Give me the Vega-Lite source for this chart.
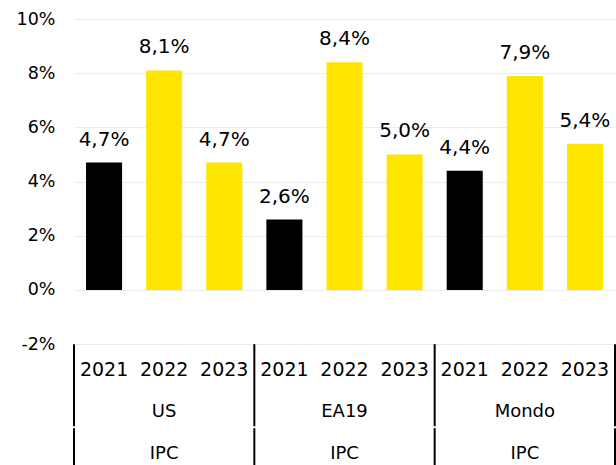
{
  "$schema": "https://vega.github.io/schema/vega-lite/v6.json",
  "width": 541,
  "height": 446,
  "autosize": "none",
  "padding": {"left": 74, "top": 19, "right": 1, "bottom": 0},
  "config": {
    "view": {"stroke": null},
    "font": "DejaVu Sans",
    "locale": {
      "number": {"decimal": ",", "thousands": ".", "grouping": [3], "currency": ["", " €"], "minus": "-"}
    }
  },
  "datasets": {
    "inflation": [
      {"country": "US", "year": "2021", "key": "US-2021", "value": 0.047},
      {"country": "US", "year": "2022", "key": "US-2022", "value": 0.081},
      {"country": "US", "year": "2023", "key": "US-2023", "value": 0.047},
      {"country": "EA19", "year": "2021", "key": "EA19-2021", "value": 0.026},
      {"country": "EA19", "year": "2022", "key": "EA19-2022", "value": 0.084},
      {"country": "EA19", "year": "2023", "key": "EA19-2023", "value": 0.050},
      {"country": "Mondo", "year": "2021", "key": "Mondo-2021", "value": 0.044},
      {"country": "Mondo", "year": "2022", "key": "Mondo-2022", "value": 0.079},
      {"country": "Mondo", "year": "2023", "key": "Mondo-2023", "value": 0.054}
    ],
    "groups": [
      {"country": "US", "measure": "IPC"},
      {"country": "EA19", "measure": "IPC"},
      {"country": "Mondo", "measure": "IPC"}
    ],
    "separators": [
      {"boundary": 0}, {"boundary": 3}, {"boundary": 6}, {"boundary": 9}
    ]
  },
  "resolve": {"scale": {"x": "independent"}},
  "layer": [
    {
      "data": {"name": "inflation"},
      "encoding": {
        "x": {
          "field": "key", "type": "nominal", "sort": null,
          "scale": {"paddingInner": 0.4, "paddingOuter": 0.2},
          "axis": null
        }
      },
      "layer": [
        {
          "mark": {"type": "bar"},
          "encoding": {
            "y": {
              "field": "value", "type": "quantitative",
              "scale": {"domain": [-0.0646, 0.10], "nice": false, "zero": false},
              "axis": {
                "values": [-0.02, 0, 0.02, 0.04, 0.06, 0.08, 0.10],
                "format": ".0%",
                "title": null,
                "domain": false,
                "ticks": false,
                "labelPadding": 19,
                "labelFontSize": 17.5,
                "labelColor": "#000000",
                "grid": true,
                "gridColor": "#ebebeb",
                "gridWidth": 1
              }
            },
            "y2": {"datum": 0},
            "color": {
              "field": "year", "type": "nominal",
              "scale": {"domain": ["2021", "2022", "2023"], "range": ["#000000", "#FFE600", "#FFE600"]},
              "legend": null
            }
          }
        },
        {
          "mark": {"type": "text", "fontSize": 20, "dy": -17, "baseline": "alphabetic", "color": "#000000"},
          "encoding": {
            "y": {"field": "value", "type": "quantitative"},
            "text": {"field": "value", "type": "quantitative", "format": ".1%"}
          }
        },
        {
          "mark": {"type": "text", "fontSize": 19, "baseline": "middle", "color": "#000000"},
          "encoding": {
            "y": {"datum": -0.0296, "type": "quantitative"},
            "text": {"field": "year", "type": "nominal"}
          }
        }
      ]
    },
    {
      "data": {"name": "groups"},
      "encoding": {
        "x": {
          "field": "country", "type": "nominal", "sort": null,
          "scale": {"paddingInner": 0, "paddingOuter": 0},
          "axis": null
        }
      },
      "layer": [
        {
          "mark": {"type": "text", "fontSize": 18, "baseline": "middle", "color": "#000000"},
          "encoding": {
            "y": {"datum": -0.0452, "type": "quantitative"},
            "text": {"field": "country", "type": "nominal"}
          }
        },
        {
          "mark": {"type": "text", "fontSize": 18, "baseline": "middle", "color": "#000000"},
          "encoding": {
            "y": {"datum": -0.0605, "type": "quantitative"},
            "text": {"field": "measure", "type": "nominal"}
          }
        }
      ]
    },
    {
      "data": {"name": "separators"},
      "encoding": {
        "x": {
          "field": "boundary", "type": "quantitative",
          "scale": {"domain": [0, 9], "nice": false, "zero": false},
          "axis": null
        }
      },
      "layer": [
        {
          "mark": {"type": "rule", "strokeWidth": 2, "color": "#000000"},
          "encoding": {
            "y": {"datum": -0.02, "type": "quantitative"},
            "y2": {"datum": -0.0503}
          }
        },
        {
          "mark": {"type": "rule", "strokeWidth": 2, "color": "#000000"},
          "encoding": {
            "y": {"datum": -0.0510, "type": "quantitative"},
            "y2": {"datum": -0.0646}
          }
        }
      ]
    },
    {
      "mark": {"type": "rule", "strokeWidth": 2, "color": "#1a1a1a"},
      "encoding": {
        "y": {"datum": 0, "type": "quantitative"}
      }
    }
  ]
}
